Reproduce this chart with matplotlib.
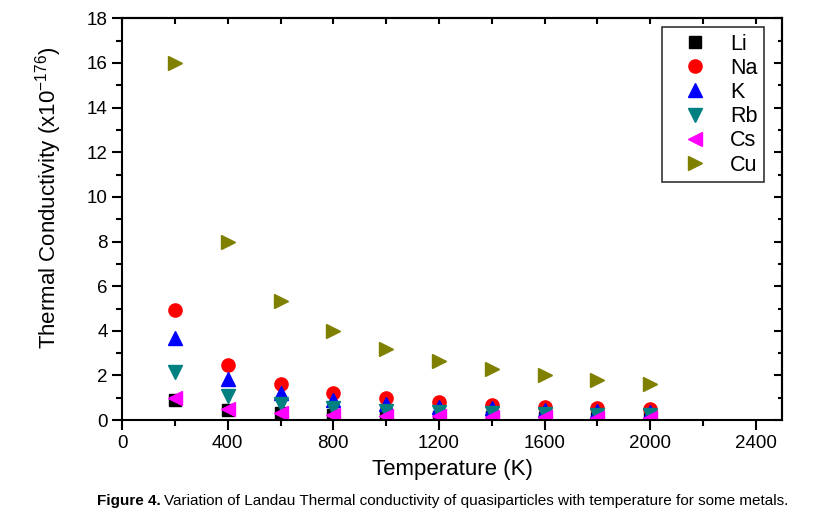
import matplotlib
matplotlib.use("Agg")
import matplotlib.pyplot as plt
from matplotlib.ticker import MultipleLocator

plt.rcParams['font.family'] = ['Liberation Sans', 'DejaVu Sans']
plt.rcParams['mathtext.fontset'] = 'custom'
plt.rcParams['mathtext.rm'] = 'Liberation Sans'
plt.rcParams['mathtext.it'] = 'Liberation Sans'

# temperature (K)
temps = [200, 400, 600, 800, 1000, 1200, 1400, 1600, 1800, 2000]

# thermal conductivity (x10^-176)
li = [0.92, 0.46, 0.31, 0.23, 0.18, 0.15, 0.13, 0.115, 0.10, 0.09]
na = [4.92, 2.46, 1.64, 1.23, 0.98, 0.82, 0.70, 0.61, 0.55, 0.49]
k = [3.68, 1.84, 1.23, 0.92, 0.74, 0.61, 0.53, 0.46, 0.41, 0.37]
rb = [2.15, 1.07, 0.72, 0.54, 0.43, 0.36, 0.31, 0.27, 0.24, 0.21]
cs = [1.0, 0.50, 0.33, 0.25, 0.20, 0.17, 0.14, 0.125, 0.11, 0.10]
cu = [16.0, 8.0, 5.33, 4.0, 3.2, 2.67, 2.29, 2.0, 1.78, 1.6]

series = [
    ("Li", li, "s", "black", 8.5),
    ("Na", na, "o", "red", 9.5),
    ("K", k, "^", "blue", 9.5),
    ("Rb", rb, "v", "#008080", 9.5),
    ("Cs", cs, "<", "magenta", 9.5),
    ("Cu", cu, ">", "#808000", 9.5),
]

fig = plt.figure(figsize=(8.14, 5.2), dpi=100)
ax = fig.add_axes([0.150, 0.192, 0.811, 0.773])

for name, vals, m, c, ms in series:
    ax.plot(temps, vals, m, color=c, ms=ms, mec=c, label=name, ls="none")

ax.set_xlim(0, 2500)
ax.set_ylim(0, 18)
ax.xaxis.set_major_locator(MultipleLocator(400))
ax.xaxis.set_minor_locator(MultipleLocator(200))
ax.yaxis.set_major_locator(MultipleLocator(2))
ax.yaxis.set_minor_locator(MultipleLocator(1))
for s in ax.spines.values():
    s.set_linewidth(1.5)
ax.tick_params(which='major', direction='out', length=7, width=1.5, labelsize=13.5)
ax.tick_params(which='minor', direction='out', length=4, width=1.5)

top = ax.secondary_xaxis('top')
top.xaxis.set_major_locator(MultipleLocator(200))
top.tick_params(direction='in', length=4, width=1.5, labeltop=False)
top.spines['top'].set_linewidth(1.5)
right = ax.secondary_yaxis('right')
right.yaxis.set_major_locator(MultipleLocator(2))
right.yaxis.set_minor_locator(MultipleLocator(1))
right.tick_params(which='major', direction='in', length=6, width=1.5, labelright=False)
right.tick_params(which='minor', direction='in', length=3, width=1.5)
right.spines['right'].set_linewidth(1.5)

ax.set_xlabel("Temperature (K)", fontsize=16, labelpad=5)
ax.set_ylabel(r"Thermal Conductivity (x10$^{-176}$)", fontsize=16)
ax.yaxis.set_label_coords(-0.088, 0.552)

leg = ax.legend(loc='upper right', bbox_to_anchor=(0.972, 0.978), fontsize=15.5,
                frameon=True, fancybox=False, edgecolor='black', borderpad=0.3,
                labelspacing=0.15, handletextpad=0.32, handlelength=2.55,
                borderaxespad=0, markerscale=1.0)
leg.get_frame().set_linewidth(1.2)

cap_text = "Variation of Landau Thermal conductivity of quasiparticles with temperature for some metals."
t1 = fig.text(0.119, 0.036, "Figure 4.", fontsize=11, fontweight='bold',
              va='center', ha='left')
fig.canvas.draw()
bb = t1.get_window_extent().transformed(fig.transFigure.inverted())
fig.text(bb.x1 + 0.004, 0.036, cap_text, fontsize=11, va='center', ha='left')

fig.savefig("out.png", dpi=100)
